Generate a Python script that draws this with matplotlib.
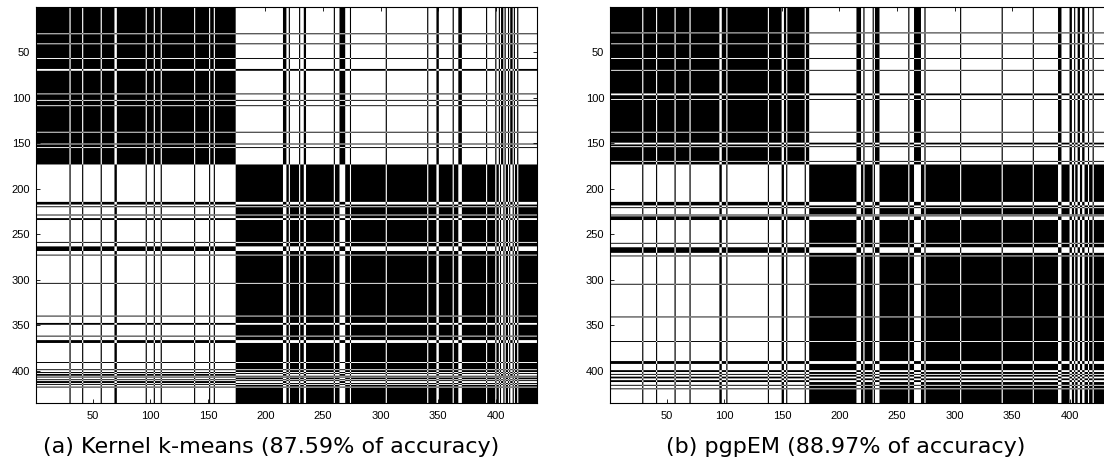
import matplotlib.pyplot as plt
import numpy as np

# 435 samples, sorted by true class (first 173 belong to class A)
N_SAMPLES = 435
N_CLASS_A = 173

# indices of misassigned samples
kkm_err_a = [29, 40, 56, 68, 69, 95, 102, 108, 137, 150, 154]
kkm_err_b = [214, 215, 216, 219, 228, 232, 233, 258, 263, 264, 265, 266, 267,
             272, 303, 339, 347, 348, 361, 366, 367, 368, 390, 398, 401, 403,
             404, 406, 409, 411, 412, 414, 417]
pgp_err_a = [28, 40, 56, 69, 95, 96, 101, 137, 149, 150, 153, 169]
pgp_err_b = [214, 215, 216, 217, 220, 228, 230, 231, 232, 233, 259, 264, 265,
             266, 267, 268, 269, 273, 304, 340, 367, 389, 390, 391, 399, 400,
             403, 406, 407, 410, 411, 415, 419]

captions = ["(a) Kernel k-means (87.59% of accuracy)",
            "(b) pgpEM (88.97% of accuracy)"]
ticks = [50, 100, 150, 200, 250, 300, 350, 400]


def same_cluster(err_a, err_b):
    pred = np.zeros(N_SAMPLES, dtype=int)
    pred[N_CLASS_A:] = 1
    pred[err_a] = 1
    pred[err_b] = 0
    # 0 (black) where two samples share a cluster, 1 (white) otherwise
    return (pred[:, None] != pred[None, :]).astype(float)


W, H = 1104, 466
fig = plt.figure(figsize=(W / 100, H / 100), dpi=100)

panels = [(same_cluster(kkm_err_a, kkm_err_b), 35.7, 271),
          (same_cluster(pgp_err_a, pgp_err_b), 609.7, 846)]
for (mat, x0, cx), cap in zip(panels, captions):
    ax = fig.add_axes([x0 / W, 63 / H, 501 / W, 395.7 / H])
    ax.imshow(mat, cmap="gray", vmin=0, vmax=1, aspect="auto",
              interpolation="antialiased",
              extent=[0.5, N_SAMPLES + 0.5, N_SAMPLES + 0.5, 0.5])
    ax.set_xticks(ticks)
    ax.set_yticks(ticks)
    ax.tick_params(direction="in", length=3.2, width=0.6, top=True,
                   right=True, labelsize=8, pad=4, colors="black")
    ax.tick_params(axis="x", pad=5.5)
    for s in ax.spines.values():
        s.set_linewidth(0.8)
    for lab in ax.get_xticklabels() + ax.get_yticklabels():
        lab.set_family("Liberation Sans")
    fig.text(cx / W, 1 - 446.7 / H, cap, ha="center", va="center",
             fontsize=16, family="DejaVu Sans")

fig.savefig("out.png", dpi=100)
